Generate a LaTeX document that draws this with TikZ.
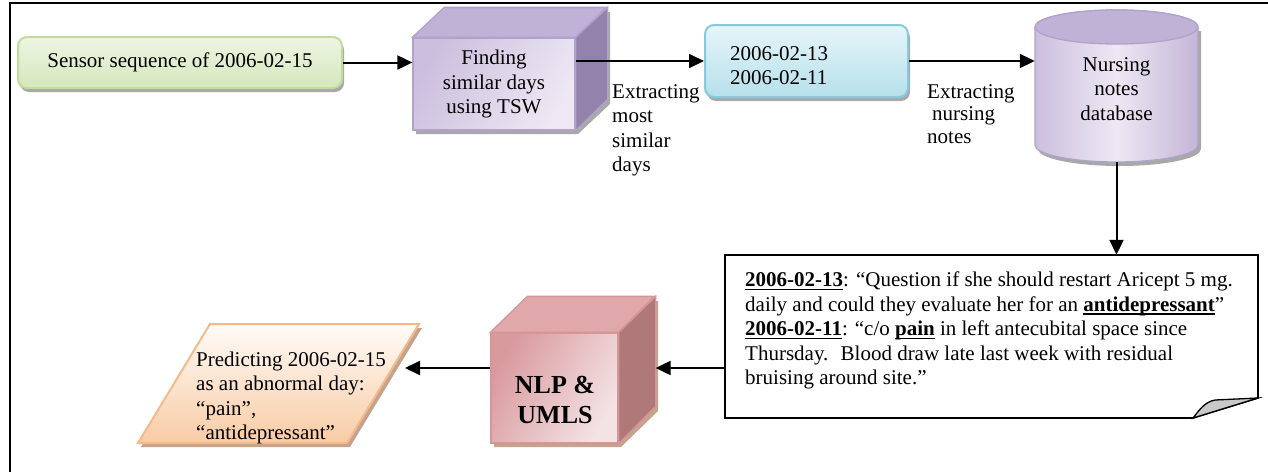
\documentclass[tikz,border=0pt]{standalone}
\usepackage{fontspec}
\setmainfont{Liberation Serif}
\usetikzlibrary{arrows.meta,calc,shadows}
\definecolor{grtop}{HTML}{EEF5E3}
\definecolor{grbot}{HTML}{D5E7BC}
\definecolor{grline}{HTML}{C4DA9C}
\definecolor{bltop}{HTML}{E6F5F9}
\definecolor{blbot}{HTML}{B6E0EB}
\definecolor{blline}{HTML}{86CADB}
\definecolor{puout}{HTML}{CCBFDE}
\definecolor{puin}{HTML}{EDE8F4}
\definecolor{putop}{HTML}{C0B2D6}
\definecolor{puright}{HTML}{9282AC}
\definecolor{puline}{HTML}{B0A2CA}
\definecolor{rdout}{HTML}{D99A9E}
\definecolor{rdin}{HTML}{F4E3E5}
\definecolor{rdtop}{HTML}{E0A8AA}
\definecolor{rdright}{HTML}{B07979}
\definecolor{rdline}{HTML}{D69597}
\definecolor{pctop}{HTML}{FFFBF7}
\definecolor{pcbot}{HTML}{F8CBA5}
\definecolor{pcline}{HTML}{F4B98C}
\definecolor{shgray}{HTML}{A8A8A8}
\definecolor{shbrown}{HTML}{C4A38C}
\definecolor{flapgray}{HTML}{C8C8C8}
\newcommand{\myul}[1]{{\setbox0\hbox{\textbf{#1}}\rlap{\raisebox{-3.4pt}{\rule{\wd0}{1.6pt}}}\box0}}
\begin{document}
\begin{tikzpicture}[x=1pt,y=-1pt,
  txt/.style={font=\fontsize{21}{24.5}\selectfont, inner sep=0pt},
  arr/.style={-{Triangle[length=15pt,width=14pt]}, line width=2pt, black},
  facebox/.style={inner sep=0pt, line width=1.3pt},
  shadowfill/.style={fill=shgray}
]
\useasboundingbox (0,0) rectangle (1268,471);
\draw[line width=2pt] (10,472) -- (10,3) -- (1269,3);

% sensor box
\node[txt, rounded corners=9pt, minimum width=324pt, minimum height=51pt,
  top color=grtop, bottom color=grbot, draw=grline, line width=2pt,
  drop shadow={shadow xshift=2pt, shadow yshift=-4pt, fill=shgray, opacity=1}]
  (sensor) at (180,62.5) {Sensor sequence of 2006-02-15};

% TSW box
\fill[shadowfill] (416,42) -- (448,12) -- (610,12) -- (610,104) -- (578,134) -- (416,134) -- cycle;
\node[facebox, minimum width=162pt, minimum height=92pt, draw=puline,
  left color=puout, right color=puin, shading angle=60] (find) at (494,84) {};
\draw[facebox, draw=puline, fill=putop] (find.north west) -- ++(32,-30) -- ++(162,0) -- (find.north east) -- cycle;
\draw[facebox, draw=puline, fill=puright] (find.north east) -- ++(32,-30) -- ++(0,92) -- (find.south east) -- cycle;
\node[txt, align=center] (findtext) at (find) {Finding\\similar days\\using TSW};

% days box
\node[rounded corners=9pt, minimum width=203pt, minimum height=72pt,
  top color=bltop, bottom color=blbot, draw=blline, line width=2pt,
  drop shadow={shadow xshift=2pt, shadow yshift=-4pt, fill=shgray, opacity=1}]
  (days) at (806.5,61) {};
\node[txt, anchor=north west, align=left] (daystext) at (730,46) {2006-02-13\\2006-02-11};

% labels
\node[txt, anchor=north west, align=left] (lab1) at (612,84) {Extracting\\most\\similar\\days};
\node[txt, anchor=north west, align=left, font=\fontsize{21}{22.5}\selectfont] (lab2) at (927,84) {Extracting\\\hspace*{5pt}nursing\\notes};

% database cylinder
\node[inner sep=0pt, minimum width=163pt, minimum height=152pt] (db) at (1116.5,86) {};
\fill[shadowfill] (1038,31) -- (1038,149) arc[start angle=180, end angle=360, x radius=81.5pt, y radius=17pt] -- (1201,31) -- cycle;
\path[draw=puline, line width=1.3pt, left color=puout, right color=puout!85!puright, middle color=puin]
  (1035,27) -- (1035,145) arc[start angle=180, end angle=360, x radius=81.5pt, y radius=17pt]
  -- (1198,27) arc[start angle=0, end angle=180, x radius=81.5pt, y radius=17pt] -- cycle;
\draw[draw=puline, line width=1.3pt, fill=putop] (1116.5,27) ellipse [x radius=81.5pt, y radius=17pt];
\node[txt, anchor=north, align=center] (dbtext) at (1116.5,57) {Nursing\\notes\\database};

% note callout
\node[inner sep=0pt, minimum width=533pt, minimum height=163pt] (note) at (991.5,336.5) {};
\draw[line width=1.6pt, fill=white] (725,255) -- (1258,255) -- (1258,398) -- (1193,418) -- (725,418) -- cycle;
\draw[line width=1.3pt, fill=flapgray] (1193,418) .. controls (1200,409) and (1205,402) .. (1215,400) -- (1258,398) -- cycle;
\node[txt, anchor=north west, align=left] (notetext) at (745,272) {\myul{2006-02-13}: “Question if she should restart Aricept 5 mg.\\
daily and could they evaluate her for an \myul{antidepressant}”\\
\myul{2006-02-11}: “c/o \myul{pain} in left antecubital space since\\
Thursday.~ Blood draw late last week with residual\\
bruising around site.”};

% NLP box
\fill[fill=shbrown] (494,337) -- (531,301) -- (658,301) -- (658,411) -- (621,447) -- (494,447) -- cycle;
\node[facebox, minimum width=127pt, minimum height=110pt, draw=rdline,
  left color=rdout, right color=rdin, shading angle=60] (nlp) at (554.5,388) {};
\draw[facebox, draw=rdline, fill=rdtop] (nlp.north west) -- ++(37,-36) -- ++(127,0) -- (nlp.north east) -- cycle;
\draw[facebox, draw=rdline, fill=rdright] (nlp.north east) -- ++(37,-36) -- ++(0,110) -- (nlp.south east) -- cycle;
\node[inner sep=0pt, align=center, font=\fontsize{26}{30}\selectfont\bfseries] (nlptext) at (555,400) {NLP \&\\UMLS};
\coordinate (nlpR) at ($(nlp.east)+(37,0)$);

% prediction parallelogram
\fill[fill=shbrown] (213,328) -- (422,328) -- (350,447) -- (141,447) -- cycle;
\draw[line width=2pt, draw=pcline, top color=pctop, bottom color=pcbot] (210,324) -- (419,324) -- (347,443) -- (138,443) -- cycle;
\node[txt, anchor=north west, align=left] (predtext) at (196,351.5) {Predicting 2006-02-15\\as an abnormal day:\\“pain”,\\“antidepressant”};
\coordinate (predtip) at (405,368);

% connectors
\draw[arr] (sensor.east) -- (sensor.east -| find.west);
\draw[arr] (find.east |- days.west) -- (days.west);
\draw[arr] (days.east) -- (days.east -| db.west);
\draw[arr] (db.south) -- (db.south |- note.north);
\draw[arr] ([yshift=-31.5pt]note.west) -- ([yshift=-31.5pt]note.west -| nlpR);
\draw[arr] ([yshift=20pt]nlp.west) -- ([yshift=20pt]nlp.west -| predtip);
\end{tikzpicture}
\end{document}
